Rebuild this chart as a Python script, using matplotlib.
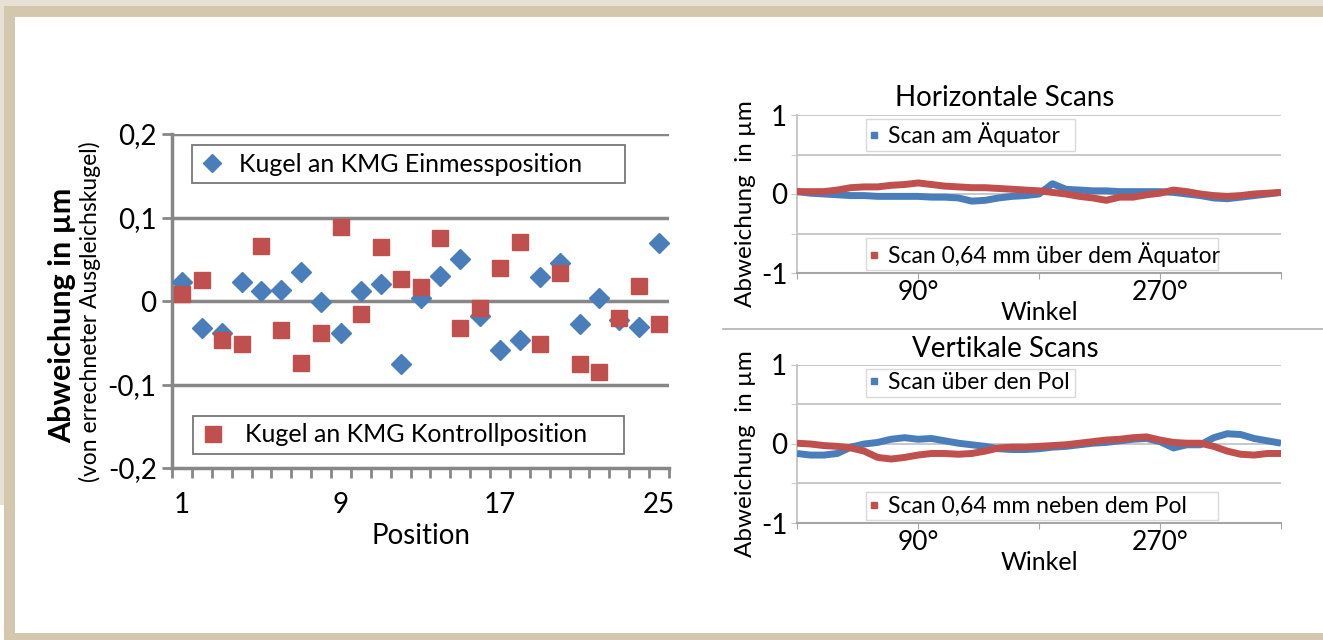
import matplotlib
matplotlib.use("Agg")
import matplotlib.pyplot as plt
from matplotlib.patches import Rectangle
from matplotlib.lines import Line2D

plt.rcParams['font.family'] = ['Lato', 'DejaVu Sans']

# --- data: left scatter (positions 1..25) ---
positions = list(range(1, 26))
einmess = [0.023, -0.032, -0.038, 0.023, 0.012, 0.013, 0.035, -0.001, -0.038, 0.012,
           0.020, -0.075, 0.003, 0.030, 0.050, -0.018, -0.059, -0.047, 0.029, 0.045,
           -0.028, 0.003, -0.023, -0.031, 0.069]
kontroll = [0.008, 0.025, -0.047, -0.051, 0.066, -0.035, -0.074, -0.038, 0.089, -0.015,
            0.065, 0.026, 0.017, 0.076, -0.032, -0.008, 0.039, 0.071, -0.051, 0.033,
            -0.076, -0.085, -0.020, 0.018, -0.028]

# --- data: scans, every 10 degrees ---
winkel = list(range(0, 361, 10))
h_aequator = [0.03, 0.01, 0.0, -0.01, -0.02, -0.02, -0.03, -0.03, -0.03, -0.03,
              -0.04, -0.04, -0.05, -0.09, -0.08, -0.05, -0.03, -0.02, 0.0, 0.13,
              0.06, 0.05, 0.04, 0.04, 0.03, 0.03, 0.03, 0.03, 0.02, 0.0,
              -0.02, -0.05, -0.06, -0.04, -0.02, 0.0, 0.02]
h_ueber = [0.03, 0.03, 0.03, 0.05, 0.08, 0.09, 0.09, 0.11, 0.12, 0.14,
           0.12, 0.10, 0.09, 0.08, 0.08, 0.07, 0.06, 0.05, 0.04, 0.02,
           0.0, -0.03, -0.05, -0.08, -0.04, -0.04, -0.01, 0.01, 0.05, 0.03,
           0.0, -0.02, -0.03, -0.02, 0.0, 0.01, 0.02]
v_pol = [-0.12, -0.14, -0.14, -0.12, -0.04, 0.0, 0.02, 0.06, 0.08, 0.06,
         0.07, 0.04, 0.01, -0.01, -0.03, -0.06, -0.07, -0.07, -0.06, -0.04,
         -0.03, -0.01, 0.01, 0.02, 0.04, 0.06, 0.07, 0.03, -0.05, -0.01,
         -0.01, 0.08, 0.13, 0.12, 0.07, 0.04, 0.01]
v_neben = [0.01, 0.0, -0.02, -0.03, -0.05, -0.09, -0.17, -0.19, -0.17, -0.14,
           -0.12, -0.12, -0.13, -0.12, -0.09, -0.05, -0.04, -0.04, -0.03, -0.02,
           -0.01, 0.01, 0.03, 0.05, 0.06, 0.08, 0.09, 0.05, 0.02, 0.01,
           0.01, -0.03, -0.09, -0.13, -0.14, -0.12, -0.12]

BLUE = '#4a7ebb'
RED = '#c0504d'
GRAY = '#878787'
W, H = 1323, 640

fig = plt.figure(figsize=(W / 100, H / 100), dpi=100)
fig.patch.set_facecolor('white')


def box(x, y, w, h, color):
    # pixel coords from top-left
    fig.add_artist(Rectangle((x / W, 1 - (y + h) / H), w / W, h / H,
                             transform=fig.transFigure, color=color, lw=0, zorder=0))


def ax_rect(left, top, right, bottom):
    return [left / W, 1 - bottom / H, (right - left) / W, (bottom - top) / H]


# frame
box(0, 0, W, 6, '#e7e0d4')
box(0, 0, 4, 505, '#e7e0d4')
box(4, 6, W - 4, 11, '#d3c7ae')
box(4, 6, 11, H - 6, '#d3c7ae')
box(4, 633, W - 4, 7, '#d3c7ae')

# ---------------- left scatter ----------------
ax = fig.add_axes(ax_rect(172, 134, 669, 468))
ax.plot(positions, einmess, linestyle='none', marker='D', ms=10, color=BLUE,
        label='Kugel an KMG Einmessposition', zorder=3)
ax.plot(positions, kontroll, linestyle='none', marker='s', ms=11, color=RED,
        label='Kugel an KMG Kontrollposition', zorder=3)
ax.set_xlim(0.5, 25.5)
ax.set_ylim(-0.2, 0.2)
for v in [-0.1, 0, 0.1, 0.2]:
    ax.axhline(v, color=GRAY, lw=2.5, zorder=1)
for s in ['top', 'right']:
    ax.spines[s].set_visible(False)
for s in ['left', 'bottom']:
    ax.spines[s].set_color(GRAY)
    ax.spines[s].set_linewidth(2.5)
ax.set_yticks([-0.2, -0.1, 0, 0.1, 0.2])
ax.set_yticklabels(['-0,2', '-0,1', '0', '0,1', '0,2'])
ax.set_xticks([1, 9, 17, 25])
ax.set_xticks([i + 0.5 for i in range(0, 26)], minor=True)
ax.tick_params(axis='y', direction='out', length=7, width=2, color=GRAY,
               labelsize=20, pad=4)
ax.tick_params(axis='x', which='major', length=0, labelsize=20, pad=17)
ax.tick_params(axis='x', which='minor', direction='out', length=7, width=2, color=GRAY)
ax.set_xlabel('Position', fontsize=20, labelpad=4)

h1, l1 = ax.get_legend_handles_labels()
leg1 = ax.legend([h1[0]], [l1[0]], loc='upper left', bbox_to_anchor=(0.040, 0.0, 0.872, 0.967),
                 mode='expand', fontsize=18, frameon=True, fancybox=False, borderaxespad=0,
                 borderpad=0.3, handlelength=1.0, handletextpad=0.6, markerscale=0.95)
leg1.get_frame().set_edgecolor('#555555')
leg1.get_frame().set_linewidth(1.3)
ax.add_artist(leg1)
leg2 = ax.legend([h1[1]], [l1[1]], loc='lower left', bbox_to_anchor=(0.042, 0.042, 0.867, 0.9),
                 mode='expand', fontsize=18, frameon=True, fancybox=False, borderaxespad=0,
                 borderpad=0.3, handlelength=1.0, handletextpad=0.8)
leg2.get_frame().set_edgecolor('#555555')
leg2.get_frame().set_linewidth(1.3)

fig.text(62 / W, 1 - 315 / H, 'Abweichung in µm', rotation=90, fontsize=22,
         fontweight='bold', ha='center', va='center')
fig.text(90 / W, 1 - 312 / H, '(von errechneter Ausgleichskugel)', rotation=90,
         fontsize=16.5, ha='center', va='center')


# ---------------- right scan plots ----------------
def scan_plot(top, bottom, blue_vals, red_vals, blue_label, red_label, title, title_y):
    a = fig.add_axes(ax_rect(797, top, 1281, bottom))
    a.plot(winkel, blue_vals, color=BLUE, lw=5, solid_capstyle='butt', zorder=3)
    a.plot(winkel, red_vals, color=RED, lw=5, solid_capstyle='butt', zorder=4)
    a.set_xlim(0, 360)
    a.set_ylim(-1, 1)
    for v in [-0.5, 0, 0.5, 1]:
        a.axhline(v, color='#c4c4c4', lw=1.3, zorder=1)
    for s in ['top', 'right']:
        a.spines[s].set_visible(False)
    a.spines['left'].set_color('#c4c4c4')
    a.spines['bottom'].set_color('#a6a6a6')
    a.spines['left'].set_linewidth(1.3)
    a.spines['bottom'].set_linewidth(1.5)
    a.set_yticks([-1, 0, 1])
    a.set_yticklabels(['-1', '0', '1'])
    a.set_yticks([-0.5, 0.5], minor=True)
    a.set_xticks([0, 90, 180, 270, 360])
    a.set_xticklabels(['', '90°', '', '270°', ''])
    a.tick_params(axis='y', which='both', direction='out', length=4, color='#c4c4c4',
                  labelsize=20, pad=3)
    a.tick_params(axis='x', direction='out', length=4, color='#a6a6a6',
                  labelsize=19, pad=1)
    a.set_xlabel('Winkel', fontsize=18, labelpad=-3)
    hb = Line2D([], [], linestyle='none', marker='s', ms=4.5, color=BLUE)
    hr = Line2D([], [], linestyle='none', marker='s', ms=4.5, color=RED)
    lb = a.legend([hb], [blue_label], loc='upper left', bbox_to_anchor=(0.143, 0.0, 0.432, 0.975),
                  mode='expand', fontsize=16.5, frameon=True, fancybox=False, borderaxespad=0,
                  borderpad=0.15, handlelength=0.4, handletextpad=0.4)
    lb.get_frame().set_edgecolor('#d0d0d0')
    a.add_artist(lb)
    lr = a.legend([hr], [red_label], loc='lower left', bbox_to_anchor=(0.143, 0.019, 0.727, 0.9),
                  mode='expand', fontsize=16.5, frameon=True, fancybox=False, borderaxespad=0,
                  borderpad=0.15, handlelength=0.4, handletextpad=0.4)
    lr.get_frame().set_edgecolor('#d0d0d0')
    fig.text(1005 / W, 1 - title_y / H, title, fontsize=20, ha='center', va='center')
    fig.text(746 / W, 1 - (top + bottom + 20) / 2 / H, 'Abweichung  in µm', rotation=90,
             fontsize=17.5, ha='center', va='center')
    return a


scan_plot(115, 273, h_aequator, h_ueber, 'Scan am Äquator',
          'Scan 0,64 mm über dem Äquator', 'Horizontale Scans', 98)
scan_plot(365, 523, v_pol, v_neben, 'Scan über den Pol',
          'Scan 0,64 mm neben dem Pol', 'Vertikale Scans', 349)

# separator between the two scan plots
fig.add_artist(Line2D([723 / W, 1.0], [1 - 329 / H, 1 - 329 / H], transform=fig.transFigure,
                      color='#b0b0b0', lw=1.2))

fig.savefig('out.png', dpi=100, facecolor=fig.get_facecolor())
